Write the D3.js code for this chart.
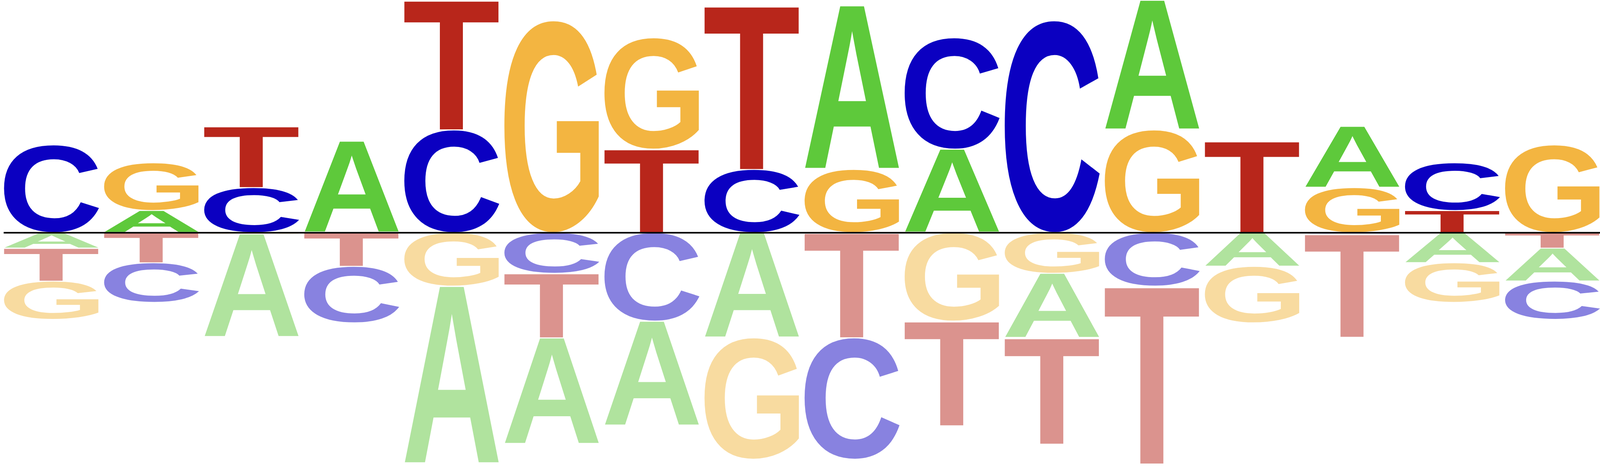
<!DOCTYPE html>
<html>
<head>
<meta charset="utf-8">
<script src="https://cdn.jsdelivr.net/npm/d3@7"></script>
<style>
  body { margin: 0; background: #fff; overflow: hidden; }
</style>
</head>
<body>
<div id="logo"></div>
<script>
// positions of the motif
var positions = [1, 2, 3, 4, 5, 6, 7, 8, 9, 10, 11, 12, 13, 14, 15, 16];
var bases = ["A", "C", "G", "T"];

// heights above the line (enriched)
var posA = [0, 0.19, 0, 0.787, 0, 0, 0, 0, 1.41, 0.718, 0, 1.116, 0, 0.527, 0, 0];
var posC = [0.755, 0, 0.387, 0, 0.884, 0, 0, 0.543, 0, 0.958, 1.825, 0, 0, 0, 0.41, 0];
var posG = [0, 0.41, 0, 0, 0, 1.825, 0.958, 0, 0.543, 0, 0, 0.884, 0, 0.387, 0, 0.755];
var posT = [0, 0, 0.527, 0, 1.116, 0, 0.718, 1.41, 0, 0, 0, 0, 0.787, 0, 0.19, 0];

// heights below the line (depleted)
var negA = [0.134, 0, 0.89, 0, 1.53, 0.914, 0.9, 0.904, 0, 0, 0.555, 0, 0.29, 0, 0.26, 0.284];
var negC = [0, 0.34, 0, 0.486, 0, 0.35, 0.761, 0, 1.045, 0, 0, 0.46, 0, 0.01, 0, 0.328];
var negG = [0.328, 0, 0.01, 0, 0.46, 0, 0, 1.045, 0, 0.761, 0.35, 0, 0.486, 0, 0.34, 0];
var negT = [0.284, 0.26, 0, 0.29, 0, 0.555, 0, 0, 0.904, 0.9, 0.914, 1.53, 0, 0.89, 0, 0.134];

var colors = { A: "#5ec93b", C: "#0b00c1", G: "#f3b541", T: "#b8261b" };
var lightColors = { A: "#b0e39e", C: "#8882e0", G: "#f8dba0", T: "#db938e" };

var svgWidth = 4800;
var svgHeight = 1200;

// the drawing is laid out in 4800x1200 units and stretched to the window
var svg = d3.select("#logo")
  .append("svg")
  .attr("width", window.innerWidth || svgWidth)
  .attr("height", window.innerHeight || svgHeight)
  .attr("viewBox", "0 0 " + svgWidth + " " + svgHeight)
  .attr("preserveAspectRatio", "none")
  .style("display", "block");

var xScale = d3.scaleBand()
  .domain(positions)
  .range([11.7, 4800])
  .paddingInner(0.05)
  .paddingOuter(0);

var yScale = d3.scaleLinear()
  .domain([-2, 2])
  .range([1190, 0]);

// measure the ink box of each glyph so letters can be stretched to fill their box
var fontSize = 200;
var fontFamily = "'Liberation Sans', Arial, sans-serif";
var ctx = document.createElement("canvas").getContext("2d");
ctx.font = "bold " + fontSize + "px " + fontFamily;
var glyph = {};
bases.forEach(function(b) {
  var m = ctx.measureText(b);
  var left = m.actualBoundingBoxLeft || 0;
  var right = m.actualBoundingBoxRight || m.width;
  var asc = m.actualBoundingBoxAscent || fontSize * 0.72;
  var desc = m.actualBoundingBoxDescent || 0;
  glyph[b] = { left: left, w: left + right, asc: asc, h: asc + desc };
});

// build the list of letters with their boxes
var letters = [];
positions.forEach(function(p, i) {
  var up = [
    { b: "A", v: posA[i] }, { b: "C", v: posC[i] },
    { b: "G", v: posG[i] }, { b: "T", v: posT[i] }
  ].filter(d => d.v > 0).sort((a, b) => a.v - b.v);
  var down = [
    { b: "A", v: negA[i] }, { b: "C", v: negC[i] },
    { b: "G", v: negG[i] }, { b: "T", v: negT[i] }
  ].filter(d => d.v > 0).sort((a, b) => a.v - b.v);

  var acc = 0;
  up.forEach(function(d) {
    letters.push({ pos: p, base: d.b, y0: acc, y1: acc + d.v, neg: false });
    acc += d.v;
  });
  acc = 0;
  down.forEach(function(d) {
    letters.push({ pos: p, base: d.b, y0: -acc, y1: -acc - d.v, neg: true });
    acc += d.v;
  });
});

svg.append("g")
  .selectAll("text")
  .data(letters)
  .enter()
  .append("text")
    .attr("x", d => glyph[d.base].left)
    .attr("y", d => glyph[d.base].asc)
    .attr("transform", function(d) {
      var g = glyph[d.base];
      var top = Math.min(yScale(d.y0), yScale(d.y1));
      var h = Math.abs(yScale(d.y0) - yScale(d.y1));
      if (h > 6) { top += 1; h -= 2; }
      var sx = xScale.bandwidth() / g.w;
      var sy = h / g.h;
      return "translate(" + xScale(d.pos) + "," + top + ") scale(" + sx + "," + sy + ")";
    })
    .style("font-family", fontFamily)
    .style("font-weight", "bold")
    .style("font-size", fontSize + "px")
    .attr("fill", d => d.neg ? lightColors[d.base] : colors[d.base])
    .text(d => d.base);

// zero line
svg.append("line")
  .attr("x1", 11)
  .attr("x2", svgWidth)
  .attr("y1", yScale(0) + 0.5)
  .attr("y2", yScale(0) + 0.5)
  .attr("stroke", "#000")
  .attr("stroke-width", 4);
</script>
</body>
</html>
